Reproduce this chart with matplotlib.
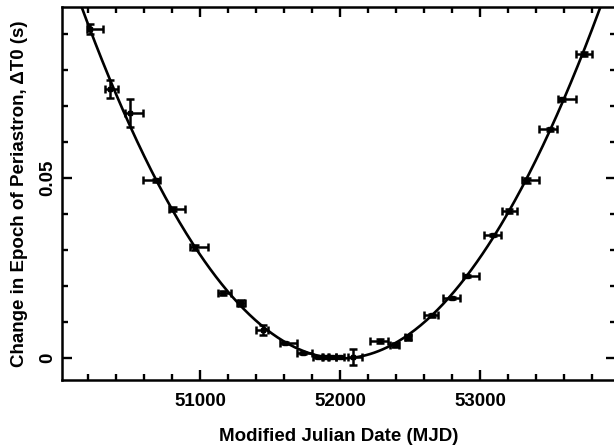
import numpy as np
import matplotlib.pyplot as plt
from matplotlib.ticker import MultipleLocator

plt.rcParams['font.family'] = ['Liberation Sans', 'DejaVu Sans']

# epoch of each measurement (MJD) and the span it covers
mjd = [50214, 50357, 50500, 50686, 50807, 50964, 51164, 51293, 51450, 51607,
       51736, 51843, 51893, 51943, 52000, 52093, 52286, 52393, 52486, 52657,
       52800, 52907, 53093, 53207, 53336, 53500, 53586, 53743]
mjd_lo = [50193, 50321, 50464, 50593, 50779, 50929, 51129, 51264, 51400, 51571,
          51693, 51807, 51871, 51921, 51971, 52057, 52214, 52357, 52464, 52600,
          52736, 52879, 53029, 53157, 53300, 53421, 53557, 53686]
mjd_hi = [50307, 50414, 50593, 50714, 50893, 51057, 51221, 51321, 51486, 51693,
          51800, 51879, 51914, 51971, 52029, 52157, 52343, 52421, 52507, 52700,
          52857, 52993, 53150, 53264, 53421, 53550, 53686, 53800]
dT0 = [0.0914, 0.0747, 0.0681, 0.0494, 0.0414, 0.0308, 0.0181, 0.0153, 0.0078, 0.0042,
       0.0014, 0.0003, 0.0003, 0.0003, 0.0003, 0.0003, 0.0047, 0.0036, 0.0058, 0.0119,
       0.0167, 0.0228, 0.0342, 0.0408, 0.0494, 0.0636, 0.0719, 0.0844]
dT0_err = [0.0015, 0.0025, 0.0040, 0.0004, 0.0006, 0.0007, 0.0006, 0.0007, 0.0014, 0.0004,
           0.0004, 0.0003, 0.0003, 0.0003, 0.0003, 0.0022, 0.0006, 0.0006, 0.0007, 0.0004,
           0.0004, 0.0004, 0.0004, 0.0006, 0.0007, 0.0004, 0.0004, 0.0006]

mjd = np.array(mjd)
xerr = [mjd - np.array(mjd_lo), np.array(mjd_hi) - mjd]

fig = plt.figure(figsize=(6.14, 4.45), dpi=100)
ax = fig.add_axes([0.101, 0.146, 0.902, 0.838])

ax.errorbar(mjd, dT0, yerr=dT0_err, xerr=xerr, fmt='s', ms=3.5, color='black',
            elinewidth=1.8, capsize=2.8, capthick=1.8)

# quadratic timing model fitted to the measurements
coef = np.polyfit(mjd, dT0, 2)
t = np.linspace(50000, 54000, 400)
ax.plot(t, np.polyval(coef, t), color='black', lw=1.9)

ax.set_xlim(50014, 53971)
ax.set_ylim(-0.0061, 0.0975)
ax.xaxis.set_major_locator(MultipleLocator(1000))
ax.xaxis.set_minor_locator(MultipleLocator(200))
ax.yaxis.set_major_locator(MultipleLocator(0.05))
ax.yaxis.set_minor_locator(MultipleLocator(0.01))
ax.yaxis.set_major_formatter(plt.FuncFormatter(lambda v, p: '0' if abs(v) < 1e-9 else f'{v:.2f}'))

ax.tick_params(which='both', direction='in', top=True, right=True, width=1.7)
ax.tick_params(which='major', length=7, labelsize=13.5)
ax.tick_params(which='minor', length=4)
ax.tick_params(axis='x', pad=9)
ax.tick_params(axis='y', pad=4)
for lab in ax.get_xticklabels() + ax.get_yticklabels():
    lab.set_fontweight('bold')
for lab in ax.get_yticklabels():
    lab.set_rotation(90)
    lab.set_va('center')
for s in ax.spines.values():
    s.set_linewidth(1.8)

ax.set_xlabel('Modified Julian Date (MJD)', fontsize=13.5, fontweight='bold', labelpad=13)
ax.set_ylabel('Change in Epoch of Periastron, ΔT0 (s)', fontsize=13.5, fontweight='bold', labelpad=8)

fig.savefig('out.png', dpi=100)
